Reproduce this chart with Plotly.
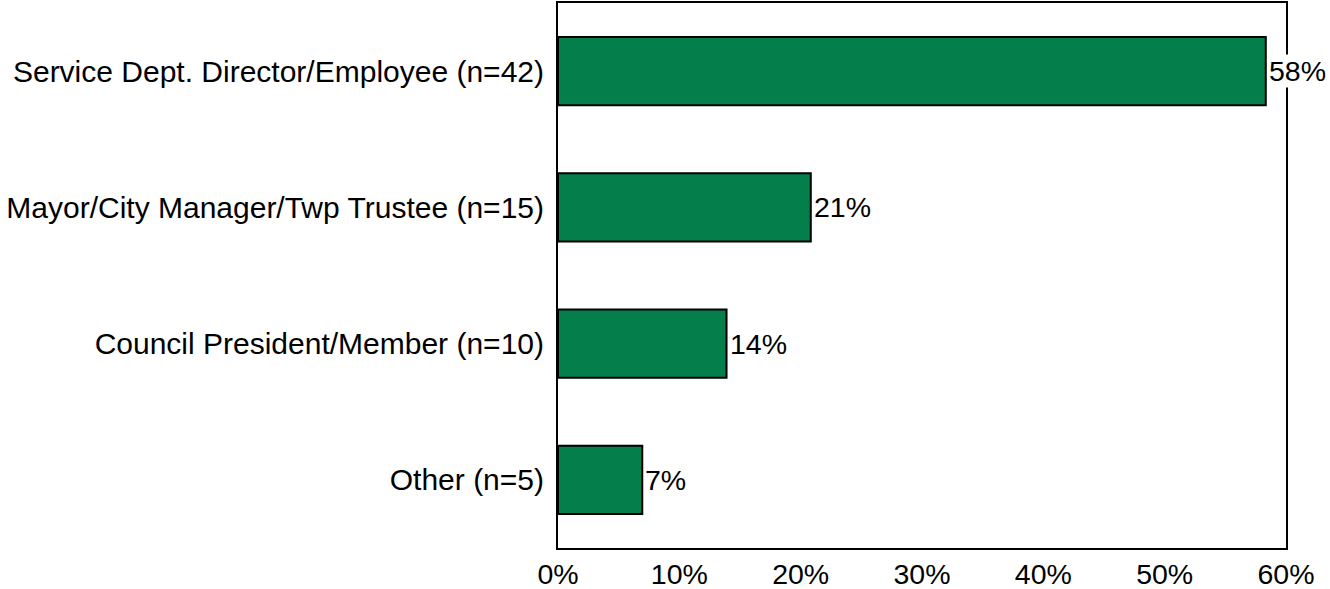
import plotly.graph_objects as go

categories = [
    "Service Dept. Director/Employee (n=42)",
    "Mayor/City Manager/Twp Trustee (n=15)",
    "Council President/Member (n=10)",
    "Other (n=5)",
]
counts = [42, 15, 10, 5]
total = sum(counts)
shares = [c / total * 100 for c in counts]
x_ticks = [0, 10, 20, 30, 40, 50, 60]

FONT = "Liberation Sans, Arial, sans-serif"
FS = 30
FS_X = 28.5

fig = go.Figure(
    go.Bar(
        x=shares,
        y=categories,
        orientation="h",
        width=0.5,
        marker=dict(color="#047F4B", line=dict(color="black", width=2)),
        hoverinfo="skip",
    )
)

# value labels to the right of each bar
for cat, val in zip(categories, shares):
    fig.add_annotation(
        x=val, y=cat, xref="x", yref="y",
        text=f"{val:.0f}%", showarrow=False,
        xanchor="left", xshift=2,
        bgcolor="white", borderpad=0,
        font=dict(family=FONT, size=FS_X, color="black"),
    )

fig.update_layout(
    width=1330, height=589,
    margin=dict(l=558, r=44, t=3, b=41),
    paper_bgcolor="white", plot_bgcolor="white",
    showlegend=False,
    font=dict(family=FONT, size=FS, color="black"),
)
fig.update_xaxes(
    range=[0, 60], tickvals=x_ticks, ticktext=[f"{v}%" for v in x_ticks],
    showgrid=False, zeroline=False, ticks="", ticklen=0,
    automargin=False,
    showline=True, linecolor="black", linewidth=2, mirror=True,
    tickfont=dict(family=FONT, size=FS_X, color="black"),
)
fig.update_yaxes(
    categoryorder="array", categoryarray=categories[::-1],
    showgrid=False, zeroline=False, ticks="", ticklen=0,
    ticklabelstandoff=6, automargin=False,
    showline=True, linecolor="black", linewidth=2, mirror=True,
    tickfont=dict(family=FONT, size=FS, color="black"),
)

fig.write_html("out.html")
